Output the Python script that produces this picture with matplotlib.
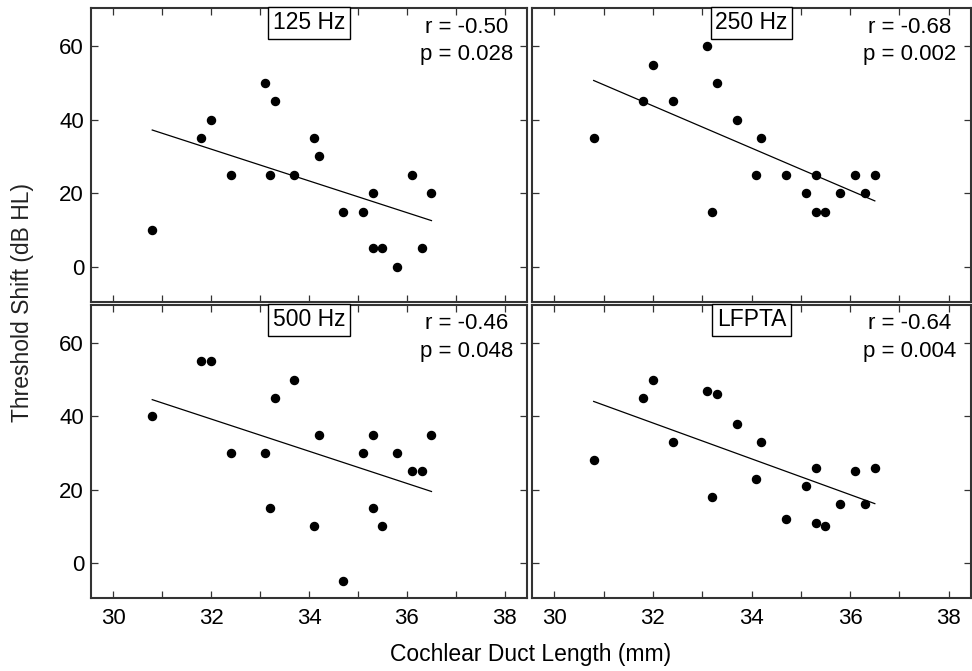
import numpy as np
import matplotlib
matplotlib.use("Agg")
import matplotlib.pyplot as plt

plt.rcParams['font.family'] = ['Liberation Sans', 'DejaVu Sans']

# Cochlear duct length (mm), one per subject, shared across panels
length = [30.8, 31.8, 32.0, 32.4, 33.1, 33.2, 33.3, 33.7, 34.1, 34.2,
          34.7, 35.1, 35.3, 35.3, 35.5, 35.8, 36.1, 36.3, 36.5]

shift_125 = [10, 35, 40, 25, 50, 25, 45, 25, 35, 30,
             15, 15, 20, 5, 5, 0, 25, 5, 20]
shift_250 = [35, 45, 55, 45, 60, 15, 50, 40, 25, 35,
             25, 20, 25, 15, 15, 20, 25, 20, 25]
shift_500 = [40, 55, 55, 30, 30, 15, 45, 50, 10, 35,
             -5, 30, 35, 15, 10, 30, 25, 25, 35]
shift_lfpta = [28, 45, 50, 33, 47, 18, 46, 38, 23, 33,
               12, 21, 26, 11, 10, 16, 25, 16, 26]

panel_titles = ["125 Hz", "250 Hz", "500 Hz", "LFPTA"]
r_values = ["-0.50", "-0.68", "-0.46", "-0.64"]
p_values = ["0.028", "0.002", "0.048", "0.004"]
series = [shift_125, shift_250, shift_500, shift_lfpta]

x_ticks = [30, 31, 32, 33, 34, 35, 36, 37, 38]
x_tick_labels = ["30", "", "32", "", "34", "", "36", "", "38"]
y_ticks = [0, 20, 40, 60]
y_tick_labels = ["0", "20", "40", "60"]

W, H = 972, 671
fig = plt.figure(figsize=(W / 100, H / 100), dpi=100)

# axes boxes in pixels: (left, top, right, bottom)
boxes = [(91, 8, 527, 302), (532, 8, 971, 302),
         (91, 305, 527, 598), (532, 305, 971, 598)]

for i, (l, t, r, b) in enumerate(boxes):
    ax = fig.add_axes([l / W, 1 - b / H, (r - l) / W, (b - t) / H])
    x = np.array(length)
    y = np.array(series[i])
    ax.plot(x, y, 'o', color='black', ms=5.8, zorder=3)
    k, c = np.polyfit(x, y, 1)
    xx = np.array([min(length), max(length)])
    ax.plot(xx, k * xx + c, color='black', lw=0.9)
    ax.set_xlim(29.55, 38.45)
    ax.set_ylim(-9.6, 70.4)
    ax.set_xticks(x_ticks)
    ax.set_yticks(y_ticks)
    if i >= 2:
        ax.set_xticklabels(x_tick_labels)
    else:
        ax.set_xticklabels([])
    if i % 2 == 0:
        ax.set_yticklabels(y_tick_labels)
    else:
        ax.set_yticklabels([])
    ax.tick_params(direction='in', top=True, right=True, length=5,
                   width=0.9, labelsize=16, colors='#333333',
                   labelcolor='black')
    ax.tick_params(axis='x', pad=7)
    ax.tick_params(axis='y', pad=5)
    for s in ax.spines.values():
        s.set_linewidth(1.5)
        s.set_color('#333333')
    ax.text(0.5, 0.950, panel_titles[i], transform=ax.transAxes,
            ha='center', va='center', fontsize=16.5,
            bbox=dict(boxstyle='square,pad=0.2', fc='white', ec='black', lw=1))
    ax.text(0.861, 0.888, "r = " + r_values[i] + "\np = " + p_values[i],
            transform=ax.transAxes, ha='center', va='center',
            multialignment='center', fontsize=16, linespacing=1.42)

fig.text(531 / W, 1 - 655 / H, "Cochlear Duct Length (mm)", ha='center',
         va='center', fontsize=16.5)
fig.text(22 / W, 1 - 303 / H, "Threshold Shift (dB HL)", ha='center',
         va='center', rotation=90, fontsize=16.5, color='#222222')

fig.savefig("out.png", dpi=100)
